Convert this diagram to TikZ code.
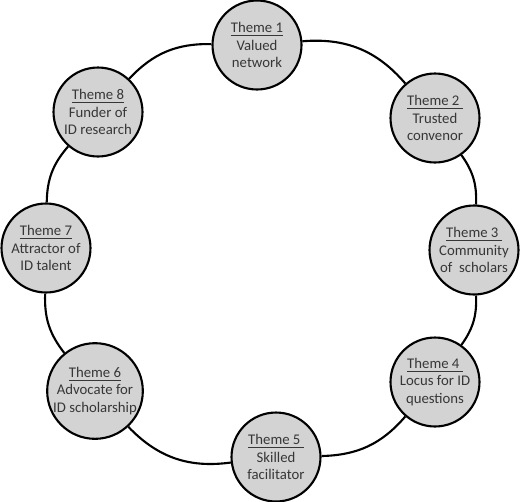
\documentclass[tikz,border=0pt]{standalone}
\usepackage{fontspec}
\setmainfont{Carlito}
\definecolor{themefill}{RGB}{211,211,211}
\definecolor{themetext}{RGB}{55,55,55}
\begin{document}
\begin{tikzpicture}[x=0.02cm, y=-0.02cm, line width=1.2pt, font=\fontsize{8.4}{9.8}\selectfont]
\tikzset{theme/.style={draw, circle, fill=themefill, text=themetext, minimum size=1.78cm, inner sep=0pt, align=center}}
\useasboundingbox (0,0) rectangle (520,501);
\node[theme] (T1) at (257,45) {\underline{Theme 1}\\Valued\\network};
\node[theme] (T2) at (435,118) {\underline{Theme 2\ }\\Trusted\\convenor};
\node[theme] (T3) at (474,250) {\underline{Theme 3\ }\\Community\\of~ scholars};
\node[theme] (T4) at (435,382) {\underline{Theme 4\ }\\Locus for ID\\questions};
\node[theme] (T5) at (276,457) {\underline{Theme 5\ }\\Skilled\\facilitator};
\node[theme, minimum size=1.88cm] (T6) at (95,391) {\underline{Theme 6}\\Advocate for\\ID scholarship};
\node[theme] (T7) at (46,248) {\underline{Theme 7}\\Attractor of\\ID talent};
\node[theme] (T8) at (98,112) {\underline{Theme 8}\\Funder of\\ID research};
\draw (T1) to[bend left=27] (T2);
\draw (T2) to[bend left=19] (T3);
\draw (T3) to[bend left=19] (T4);
\draw (T4) to[bend left=24] (T5);
\draw (T5) to[bend left=27] (T6);
\draw (T6) to[bend left=20] (T7);
\draw (T7) to[bend left=20] (T8);
\draw (T8) to[bend left=24] (T1);
\end{tikzpicture}
\end{document}
